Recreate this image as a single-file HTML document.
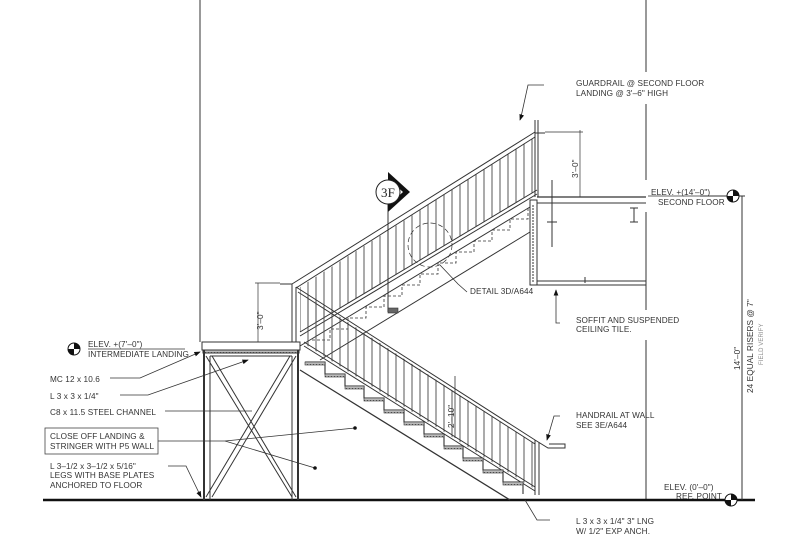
<!DOCTYPE html>
<html><head><meta charset="utf-8"><style>
html,body{margin:0;padding:0;background:#fff}
svg{display:block}
text{font-family:"Liberation Sans",sans-serif;font-size:8.2px;fill:#333;letter-spacing:0.1px}
</style></head><body>
<svg width="800" height="560" viewBox="0 0 800 560" xmlns="http://www.w3.org/2000/svg">
<defs>
<pattern id="bal" width="8" height="10" patternUnits="userSpaceOnUse"><line x1="4" y1="0" x2="4" y2="10" stroke="#444" stroke-width="0.9"/></pattern>
<pattern id="grit" width="3" height="3" patternUnits="userSpaceOnUse"><rect width="3" height="3" fill="#bbb"/><rect x="1" y="1" width="1" height="1" fill="#555"/></pattern>
<marker id="ar" markerWidth="8" markerHeight="6" refX="7" refY="3" orient="auto"><path d="M0 0 L8 3 L0 6z" fill="#111"/></marker>
</defs>
<g stroke="#333" fill="none" stroke-width="1">
<line x1="200" y1="0" x2="200" y2="342"/>
<line x1="646" y1="0" x2="646" y2="72"/>
<line x1="646" y1="104" x2="646" y2="180"/>
<line x1="646" y1="212" x2="646" y2="310"/>
<line x1="646" y1="340" x2="646" y2="500"/>
<line x1="43" y1="500" x2="755" y2="500" stroke="#111" stroke-width="2.5"/>
<line x1="742" y1="196" x2="742" y2="500"/>
<line x1="700" y1="196" x2="745" y2="196"/>
<rect x="202" y="342" width="98" height="8"/>
<rect x="203" y="350" width="96" height="3" fill="url(#grit)"/>
<line x1="204" y1="350" x2="204" y2="500" stroke-width="2"/>
<line x1="210" y1="356" x2="210" y2="500"/>
<line x1="292" y1="356" x2="292" y2="500"/>
<line x1="298" y1="350" x2="298" y2="500" stroke-width="2"/>
<line x1="210" y1="356" x2="292" y2="356"/>
<line x1="206" y1="356" x2="292" y2="497"/>
<line x1="212" y1="356" x2="296" y2="497"/>
<line x1="290" y1="356" x2="206" y2="497"/>
<line x1="296" y1="356" x2="212" y2="497"/>
<line x1="280" y1="284" x2="292" y2="284"/>
<line x1="292" y1="284" x2="292" y2="342"/>
<line x1="296" y1="287" x2="296" y2="342"/>
<polygon points="300,287 533,138 533,192 300,332" fill="url(#bal)" stroke="none"/>
<line x1="292" y1="284" x2="535" y2="132"/>
<line x1="296" y1="288" x2="535" y2="137"/>
<line x1="300" y1="332" x2="537" y2="190"/>
<line x1="300" y1="336" x2="537" y2="194"/>
<line x1="300" y1="346" x2="530" y2="207"/>
<line x1="320" y1="360" x2="530" y2="232"/>
<path d="M312 340 h18 v-11 h18 v-11 h18 v-11 h18 v-11 h18 v-11 h18 v-11 h18 v-11 h18 v-11 h18 v-11 h18 v-11 h18 v-11 h18 v-11" stroke-dasharray="3,2" stroke-width="0.8"/>
<circle cx="430" cy="245" r="22" stroke-dasharray="5,3" stroke-width="0.7"/>
<line x1="535" y1="120" x2="535" y2="197"/>
<line x1="538" y1="120" x2="538" y2="197"/>
<line x1="535" y1="133" x2="545" y2="133"/>
<line x1="545" y1="132" x2="583" y2="132" stroke-width="0.7"/>
<line x1="580" y1="130" x2="580" y2="197" stroke-width="0.7"/>
<line x1="537" y1="197" x2="646" y2="197" stroke-width="1.3"/>
<line x1="537" y1="203" x2="646" y2="203"/>
<rect x="530" y="200" width="7" height="85" />
<line x1="533" y1="205" x2="533" y2="283" stroke-dasharray="2,1"/>
<line x1="537" y1="281" x2="646" y2="281"/>
<line x1="537" y1="285" x2="646" y2="285"/>
<line x1="585" y1="277" x2="585" y2="283"/>
<line x1="634" y1="208" x2="634" y2="222"/>
<line x1="630" y1="208" x2="638" y2="208"/>
<line x1="630" y1="222" x2="638" y2="222"/>
<line x1="552" y1="180" x2="552" y2="247"/>
<line x1="547" y1="222" x2="557" y2="222"/>
<polygon points="302,292 533,443 533,488 306,345" fill="url(#bal)" stroke="none"/>
<line x1="296" y1="287" x2="535" y2="440"/>
<line x1="298" y1="292" x2="535" y2="444"/>
<line x1="304" y1="342" x2="535" y2="487"/>
<line x1="304" y1="346" x2="535" y2="491"/>
<line x1="535" y1="440" x2="535" y2="495"/>
<line x1="539" y1="442" x2="539" y2="495"/>
<path d="M535 440 L548 448 H565 V444 H549" stroke-width="1"/>
<line x1="300" y1="370" x2="510" y2="500" stroke-width="1.2"/>
<path d="M305 362 h20 v12 h20 v12 h19 v12 h20 v12 h20 v12 h20 v12 h20 v12 h19 v12 h20 v12 h20 v12 h20 v12" stroke-width="1.1"/>
<line x1="258" y1="283" x2="258" y2="342" stroke-width="0.7"/>
<line x1="255" y1="283" x2="280" y2="283" stroke-width="0.7"/>
<line x1="455" y1="376" x2="455" y2="438" stroke-width="0.8"/>
<line x1="388" y1="204" x2="388" y2="312"/>
</g>
<g fill="url(#grit)" stroke="#333" stroke-width="0.6">
<rect x="305" y="362" width="20" height="3"/><rect x="325" y="374" width="20" height="3"/><rect x="345" y="386" width="19" height="3"/><rect x="364" y="398" width="20" height="3"/><rect x="384" y="410" width="20" height="3"/><rect x="404" y="422" width="20" height="3"/><rect x="424" y="434" width="20" height="3"/><rect x="444" y="446" width="19" height="3"/><rect x="463" y="458" width="20" height="3"/><rect x="483" y="470" width="20" height="3"/><rect x="503" y="482" width="20" height="3"/>
<rect x="388" y="308" width="10" height="5" fill="#666"/>
</g>
<path d="M388 172 L410 192 L388 212 Z" fill="#111"/>
<path d="M392 182 L403 192 L392 202 Z" fill="#fff"/>
<circle cx="388" cy="192" r="12" fill="#fff" stroke="#222"/>
<text x="388" y="197" text-anchor="middle" style="font-family:'Liberation Serif',serif;font-size:13px;fill:#222">3F</text>
<g stroke="#333" fill="none" stroke-width="0.8">
<path d="M544 85 H528 L521 117 L520 120" marker-end="url(#ar)"/>
<path d="M467 292 L458 284 L440 265"/>
<path d="M560 323 H556 V290" marker-end="url(#ar)"/>
<path d="M560 416 H554 L547 440" marker-end="url(#ar)"/>
<path d="M525 500 L537 520 H550"/>
<path d="M110 378 H140 L200 352" marker-end="url(#ar)"/>
<path d="M120 395 H148 L248 360" marker-end="url(#ar)"/>
<path d="M165 411 H252"/>
<path d="M158 441 H225 L355 428"/>
<path d="M225 441 L315 468"/>
<path d="M168 466 H186 L201 497" marker-end="url(#ar)"/>
<line x1="88" y1="349" x2="185" y2="349"/>
<line x1="648" y1="196" x2="725" y2="196"/>
</g>
<circle cx="355" cy="428" r="1.8" fill="#111"/>
<circle cx="315" cy="468" r="1.8" fill="#111"/>
<g>
<circle cx="74" cy="349" r="6" fill="#fff" stroke="#111"/><path d="M74 343 A6 6 0 0 1 80 349 H74Z M74 355 A6 6 0 0 1 68 349 H74Z" fill="#111"/>
<circle cx="733" cy="196" r="6" fill="#fff" stroke="#111"/><path d="M733 190 A6 6 0 0 1 739 196 H733Z M733 202 A6 6 0 0 1 727 196 H733Z" fill="#111"/>
<circle cx="731" cy="500" r="6" fill="#fff" stroke="#111"/><path d="M731 494 A6 6 0 0 1 737 500 H731Z M731 506 A6 6 0 0 1 725 500 H731Z" fill="#111"/>
</g>
<text x="88" y="347">ELEV. +(7'–0")</text>
<text x="88" y="357">INTERMEDIATE LANDING</text>
<text x="50" y="382">MC 12 x 10.6</text>
<text x="50" y="399">L 3 x 3 x 1/4"</text>
<text x="50" y="415">C8 x 11.5 STEEL CHANNEL</text>
<rect x="45" y="428" width="113" height="26" fill="none" stroke="#444" stroke-width="0.8"/>
<text x="50" y="439">CLOSE OFF LANDING &amp;</text>
<text x="50" y="449">STRINGER WITH P5 WALL</text>
<text x="50" y="469">L 3–1/2 x 3–1/2 x 5/16"</text>
<text x="50" y="478">LEGS WITH BASE PLATES</text>
<text x="50" y="488">ANCHORED TO FLOOR</text>
<text x="576" y="86">GUARDRAIL @ SECOND FLOOR</text>
<text x="576" y="96">LANDING @ 3'–6" HIGH</text>
<text x="651" y="195">ELEV. +(14'–0")</text>
<text x="658" y="205">SECOND FLOOR</text>
<text x="470" y="294">DETAIL 3D/A644</text>
<text x="576" y="323">SOFFIT AND SUSPENDED</text>
<text x="576" y="332">CEILING TILE.</text>
<text x="576" y="418">HANDRAIL AT WALL</text>
<text x="576" y="428">SEE 3E/A644</text>
<text x="664" y="490">ELEV. (0'–0")</text>
<text x="676" y="499">REF. POINT</text>
<text x="576" y="524">L 3 x 3 x 1/4" 3" LNG</text>
<text x="576" y="534">W/ 1/2" EXP ANCH.</text>
<text transform="translate(578,178) rotate(-90)">3'–0"</text>
<text transform="translate(263,330) rotate(-90)">3'–0"</text>
<text transform="translate(454,428) rotate(-90)">2'–10"</text>
<text transform="translate(740,370) rotate(-90)">14'–0"</text>
<text transform="translate(753,393) rotate(-90)">24 EQUAL RISERS @ 7"</text>
<text transform="translate(763,365) rotate(-90)" style="font-size:6px;fill:#888">FIELD VERIFY</text>
</svg>
</body></html>
